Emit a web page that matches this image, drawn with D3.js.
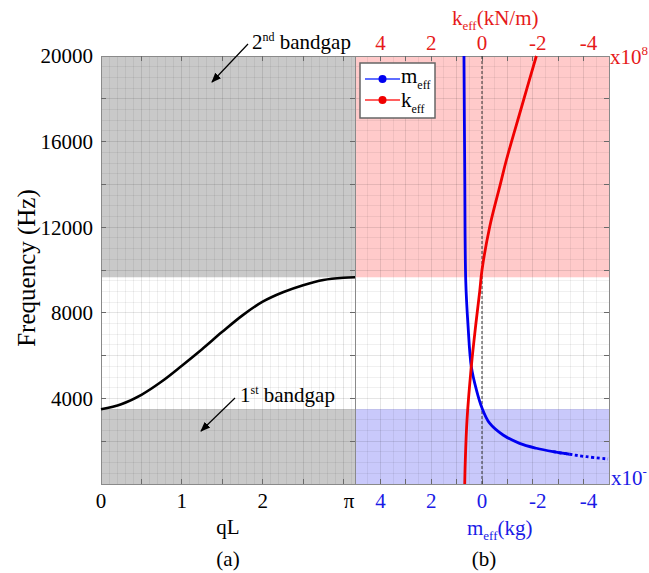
<!DOCTYPE html>
<html><head><meta charset="utf-8">
<script src="https://cdn.jsdelivr.net/npm/d3@7"></script>
<style>body{margin:0;background:#fff}svg{display:block}text{font-family:"Liberation Serif","Times New Roman",serif}</style>
</head><body><svg id="c" width="649" height="573" font-family="Liberation Serif, Times New Roman, serif"></svg>
<script>
// ---- data ----
const qL = [0, 0.25, 0.5, 0.75, 1.0, 1.25, 1.5, 1.75, 2.0, 2.25, 2.5, 2.75, 3.0, Math.PI];
const freqDispersion = [3490, 3730, 4170, 4790, 5530, 6300, 7110, 7880, 8520, 8960, 9290, 9535, 9640, 9660];
const bandgaps = [[0, 3500], [9660, 20000]];
const freqM = [20000, 14673, 9500, 7400, 5480, 4400, 3550, 2840, 2290, 1900, 1670, 1510, 1390, 1275, 1168];
const meff = [0.71, 0.68, 0.64, 0.55, 0.42, 0.22, 0, -0.30, -0.83, -1.48, -2.14, -2.80, -3.45, -4.11, -4.96];
const freqK = [0, 1000, 3000, 5500, 7500, 9000, 10000, 12000, 14000, 15140, 17500, 20000];
const keff = [0.68, 0.66, 0.59, 0.42, 0.24, 0.09, 0.0, -0.30, -0.72, -0.96, -1.53, -2.14];
const freqTicks = [4000, 8000, 12000, 16000, 20000];
const qLTicks = [0, 1, 2, Math.PI];
const qLTickLabels = ["0", "1", "2", "\u03c0"];
const effTicks = [4, 2, 0, -2, -4];

(function () {
// ---- layout ----
const svg = d3.select("#c");
const pTop = 56, pBot = 484, lx0 = 101, lx1 = 355, rx1 = 609;
const y = d3.scaleLinear([0, 20000], [pBot, pTop]);
const xL = d3.scaleLinear([0, Math.PI], [lx0, lx1]);
const xM = d3.scaleLinear([5, -5], [lx1, rx1]);
const xK = d3.scaleLinear([5, -5], [lx1, rx1]);
const FS = 21;
const BLUE = "#1a1ae6", RED = "#e61a1a";

// backgrounds
const gL = svg.append("g");
gL.append("rect").attr("x", lx0).attr("y", pTop).attr("width", lx1 - lx0).attr("height", pBot - pTop).attr("fill", "#fff");
bandgaps.forEach(b => {
  gL.append("rect").attr("x", lx0).attr("width", lx1 - lx0)
    .attr("y", y(b[1])).attr("height", y(b[0]) - y(b[1])).attr("fill", "#c9c9c9");
});
const gR = svg.append("g");
gR.append("rect").attr("x", lx1).attr("y", pTop).attr("width", rx1 - lx1).attr("height", pBot - pTop).attr("fill", "#fff");
gR.append("rect").attr("x", lx1).attr("width", rx1 - lx1).attr("y", y(bandgaps[1][1])).attr("height", y(bandgaps[1][0]) - y(bandgaps[1][1])).attr("fill", "#ffcaca");
gR.append("rect").attr("x", lx1).attr("width", rx1 - lx1).attr("y", y(bandgaps[0][1])).attr("height", y(bandgaps[0][0]) - y(bandgaps[0][1])).attr("fill", "#c9c9fb");

// grids
const grid = svg.append("g").attr("stroke", "#000").attr("stroke-width", 1).attr("shape-rendering", "crispEdges");
d3.range(0.1, 3.14, 0.1).forEach(v => grid.append("line").attr("x1", xL(v)).attr("x2", xL(v)).attr("y1", pTop).attr("y2", pBot).attr("stroke-opacity", Math.abs(v * 2 - Math.round(v * 2)) < 1e-6 ? 0.1 : 0.06));
d3.range(-4.5, 5, 0.5).forEach(v => grid.append("line").attr("x1", xM(v)).attr("x2", xM(v)).attr("y1", pTop).attr("y2", pBot).attr("stroke-opacity", Number.isInteger(v) ? 0.1 : 0.06));
d3.range(500, 20000, 500).forEach(v => grid.append("line").attr("x1", lx0).attr("x2", rx1).attr("y1", y(v)).attr("y2", y(v)).attr("stroke-opacity", v % 2000 === 0 ? 0.1 : 0.06));

// frames
svg.append("rect").attr("x", lx0).attr("y", pTop).attr("width", lx1 - lx0).attr("height", pBot - pTop).attr("fill", "none").attr("stroke", "#8a8a8a").attr("shape-rendering", "crispEdges");
svg.append("rect").attr("x", lx1).attr("y", pTop).attr("width", rx1 - lx1).attr("height", pBot - pTop).attr("fill", "none").attr("stroke", "#8a8a8a").attr("shape-rendering", "crispEdges");

// ticks (inward)
const tk = svg.append("g").attr("stroke", "#6a6a6a").attr("shape-rendering", "crispEdges");
d3.range(2000, 20000, 2000).forEach(v => {
  tk.append("line").attr("x1", lx0).attr("x2", lx0 + 5).attr("y1", y(v)).attr("y2", y(v));
  tk.append("line").attr("x1", lx1 - 5).attr("x2", lx1).attr("y1", y(v)).attr("y2", y(v));
  tk.append("line").attr("x1", rx1 - 5).attr("x2", rx1).attr("y1", y(v)).attr("y2", y(v));
});
d3.range(0.5, 3.1, 0.5).forEach(v => {
  tk.append("line").attr("x1", xL(v)).attr("x2", xL(v)).attr("y1", pTop).attr("y2", pTop + 5);
  tk.append("line").attr("x1", xL(v)).attr("x2", xL(v)).attr("y1", pBot - 5).attr("y2", pBot);
});
d3.range(-4, 5, 1).forEach(v => {
  tk.append("line").attr("x1", xM(v)).attr("x2", xM(v)).attr("y1", pTop).attr("y2", pTop + 5);
  tk.append("line").attr("x1", xM(v)).attr("x2", xM(v)).attr("y1", pBot - 5).attr("y2", pBot);
});

// zero dashed line
svg.append("line").attr("x1", xM(0)).attr("x2", xM(0)).attr("y1", pTop).attr("y2", pBot)
  .attr("stroke", "#333").attr("stroke-dasharray", "3,2").attr("stroke-width", 1);

// tick labels
const yl = svg.append("g").attr("font-size", FS).attr("fill", "#000");
freqTicks.forEach(v => yl.append("text").attr("x", 93).attr("y", y(v)).attr("dy", "0.35em").attr("text-anchor", "end").text(v));
qLTicks.forEach((v, i) => yl.append("text").attr("x", xL(v)).attr("dx", i === 3 ? -6 : 0).attr("y", 508).attr("text-anchor", "middle").text(qLTickLabels[i]));
effTicks.forEach(v => {
  svg.append("text").attr("x", xM(v)).attr("dx", v < 0 ? 5 : 0).attr("y", 508).attr("text-anchor", "middle").attr("font-size", FS).attr("fill", BLUE).text(v);
  svg.append("text").attr("x", xK(v)).attr("dx", v < 0 ? 5 : 0).attr("y", 50).attr("text-anchor", "middle").attr("font-size", FS).attr("fill", RED).text(v);
});

// axis titles
svg.append("text").attr("transform", "translate(35,268) rotate(-90)").attr("text-anchor", "middle")
  .attr("font-size", 25).text("Frequency (Hz)");
svg.append("text").attr("x", 228).attr("y", 534).attr("text-anchor", "middle").attr("font-size", FS).text("qL");
svg.append("text").attr("x", 228).attr("y", 566).attr("text-anchor", "middle").attr("font-size", FS).text("(a)");
svg.append("text").attr("x", 484).attr("y", 566).attr("text-anchor", "middle").attr("font-size", FS).text("(b)");
function subText(x, yy, main, sub, rest, color) {
  const t = svg.append("text").attr("x", x).attr("y", yy).attr("font-size", FS).attr("fill", color);
  t.append("tspan").text(main);
  t.append("tspan").attr("font-size", 13).attr("dy", 5).text(sub);
  if (rest) t.append("tspan").attr("dy", -5).text(rest);
  return t;
}
subText(467, 535, "m", "eff", "(kg)", BLUE);
subText(452, 25, "k", "eff", "(kN/m)", RED);
const x8 = svg.append("text").attr("x", 610).attr("y", 64).attr("font-size", FS).attr("fill", RED);
x8.append("tspan").text("x10"); x8.append("tspan").attr("font-size", 13).attr("dy", -9).text("8");
const xm = svg.append("text").attr("x", 611).attr("y", 485).attr("font-size", FS).attr("fill", BLUE);
xm.append("tspan").text("x10"); xm.append("tspan").attr("font-size", 13).attr("dy", -9).text("-");

// curves
const disp = qL.map((q, i) => [xL(q), y(freqDispersion[i])]);
svg.append("path").attr("d", d3.line().curve(d3.curveCatmullRom)(disp)).attr("fill", "none").attr("stroke", "#000").attr("stroke-width", 2.6);
const mPts = freqM.map((f, i) => [xM(meff[i]), y(f)]);
const tailStart = meff.findIndex(v => v <= -3.4);
svg.append("path").attr("d", d3.line().curve(d3.curveCatmullRom)(mPts.slice(0, tailStart + 1))).attr("fill", "none").attr("stroke", "#0000f0").attr("stroke-width", 2.8);
svg.append("path").attr("d", d3.line().curve(d3.curveCatmullRom)(mPts.slice(tailStart - 1))).attr("fill", "none").attr("stroke", "#0000f0").attr("stroke-width", 2.8).attr("stroke-dasharray", "3,2.5");
const kPts = freqK.map((f, i) => [xK(keff[i]), y(f)]);
svg.append("path").attr("d", d3.line().curve(d3.curveCatmullRom)(kPts)).attr("fill", "none").attr("stroke", "#f00000").attr("stroke-width", 2.8);

// legend
const lg = svg.append("g");
lg.append("rect").attr("x", 360).attr("y", 63).attr("width", 75).attr("height", 55).attr("fill", "#fff").attr("stroke", "#666").attr("stroke-width", 1.5);
[["m", "#2a3cff", "#0000f0", 79, 83], ["k", "#ff2a2a", "#f00000", 100, 107]].forEach(([s, c, c2, yy, ty]) => {
  lg.append("line").attr("x1", 365).attr("x2", 400).attr("y1", yy).attr("y2", yy).attr("stroke", c).attr("stroke-width", 1.3);
  lg.append("circle").attr("cx", 382.5).attr("cy", yy).attr("r", 4).attr("fill", c2);
  const t = lg.append("text").attr("x", 401).attr("y", ty).attr("font-size", FS);
  t.append("tspan").text(s); t.append("tspan").attr("font-size", 12).attr("dy", 6).text("eff");
});

// annotations
svg.append("defs").append("marker").attr("id", "ah").attr("viewBox", "0 0 10 10").attr("refX", 9).attr("refY", 5)
  .attr("markerWidth", 10).attr("markerHeight", 10).attr("markerUnits", "userSpaceOnUse").attr("orient", "auto")
  .append("path").attr("d", "M0,1 L10,5 L0,9 Z").attr("fill", "#000");
function annot(x, yy, num, sup, ax1, ay1, ax2, ay2) {
  const t = svg.append("text").attr("x", x).attr("y", yy).attr("font-size", FS);
  t.append("tspan").text(num);
  t.append("tspan").attr("font-size", 12).attr("dy", -8).text(sup);
  t.append("tspan").attr("dy", 8).text(" bandgap");
  svg.append("line").attr("x1", ax1).attr("y1", ay1).attr("x2", ax2).attr("y2", ay2).attr("stroke", "#000").attr("stroke-width", 1.2).attr("marker-end", "url(#ah)");
}
annot(252, 49, "2", "nd", 248, 44, 212, 82);
annot(240, 402, "1", "st", 235, 398, 201, 431);
})();
</script></body></html>
